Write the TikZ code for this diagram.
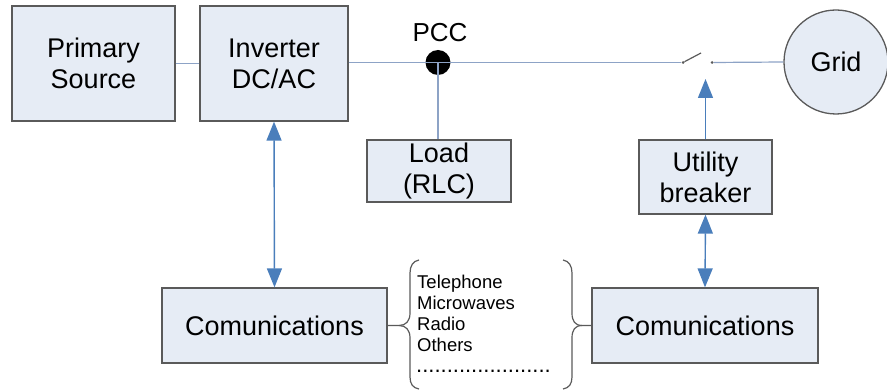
\documentclass[tikz,border=0pt]{standalone}
\usepackage{fontspec}
\setmainfont{Liberation Sans}
\usetikzlibrary{arrows.meta}
\definecolor{boxfill}{HTML}{E6ECF5}
\definecolor{boxline}{HTML}{5A5A5A}
\definecolor{wire}{HTML}{8DA3C6}
\definecolor{arr}{HTML}{4A7EBB}
\tikzset{
  blk/.style={draw=boxline, fill=boxfill, line width=1.3pt, inner sep=0pt, align=center,
    font=\fontsize{27}{31}\selectfont},
  wireline/.style={draw=wire, line width=1.2pt},
  commarrow/.style={draw=arr, fill=arr, line width=1.4pt,
    arrows={Triangle[length=19pt,width=15pt]-Triangle[length=19pt,width=15pt]}},
  uparrow/.style={draw=arr, fill=arr, line width=1.4pt,
    arrows={-Triangle[length=19pt,width=15pt]}},
  bracestyle/.style={draw=boxline, line width=1.2pt},
  contact/.style={circle, fill=boxline, inner sep=0pt, minimum size=3pt}
}
\begin{document}
\begin{tikzpicture}[x=1pt,y=-1pt]
\useasboundingbox (0,0) rectangle (887,390);
% blocks
\node[blk, minimum width=163pt, minimum height=115pt] (prim) at (93.5,63.5) {Primary\\Source};
\node[blk, minimum width=148pt, minimum height=115pt] (inv) at (274,63.5) {Inverter\\DC/AC};
\node[blk, minimum width=144pt, minimum height=62pt] (load) at (439,171) {Load\\(RLC)};
\node[blk, minimum width=133pt, minimum height=74pt] (brk) at (705.5,177) {Utility\\breaker};
\node[blk, minimum width=225pt, minimum height=75pt] (comL) at (274.5,325.5) {Comunications};
\node[blk, minimum width=226pt, minimum height=75pt] (comR) at (705,325.5) {Comunications};
\node[blk, circle, minimum size=104pt] (grid) at (836,62) {Grid};
% PCC
\node[circle, fill=black, inner sep=0pt, minimum size=25pt] (pcc) at (438,62.5) {};
\node[font=\fontsize{26}{30}\selectfont, inner sep=0pt] (pcclab) at (440,33) {PCC};
% switch contacts
\node[contact] (sw1) at (683,62.5) {};
\node[contact] (sw2) at (712,62.5) {};
\coordinate (blade) at (701,53);
\coordinate (brktop) at (705.5,79);
% wires
\draw[wireline] (prim.east |- 0,63.5) -- (inv.west |- 0,63.5);
\draw[wireline] (inv.east |- pcc) -- (pcc.center);
\draw[wireline] (pcc.center) -- (pcc.center |- load.north);
\draw[wireline] (pcc.center) -- (sw1);
\draw[draw=boxline, line width=1.2pt] (sw1) -- (blade);
\draw[wireline] (sw2) -- (grid.west);
% communication arrows
\draw[commarrow] (inv.south) -- (comL.north);
\draw[uparrow] (brk.north) -- (brktop);
\draw[commarrow] (brk.south) -- (comR.north);
% braces
\draw[bracestyle] (comL.east) -- (399,325.5)
  .. controls (406,325.5) and (410,321) .. (410,313) -- (410,273)
  .. controls (410,266) and (413,261) .. (419,260);
\draw[bracestyle] (399,325.5)
  .. controls (406,325.5) and (410,330) .. (410,338) -- (410,377)
  .. controls (410,384) and (413,388) .. (419,389);
\draw[bracestyle] (comR.west) -- (582,325.5)
  .. controls (575,325.5) and (572,321) .. (572,313) -- (572,273)
  .. controls (572,266) and (569,261) .. (563,260);
\draw[bracestyle] (582,325.5)
  .. controls (575,325.5) and (572,330) .. (572,338) -- (572,377)
  .. controls (572,384) and (569,388) .. (563,389);
% media list
\node[anchor=west, align=left, inner sep=0pt, font=\fontsize{18.5}{21}\selectfont] (media) at (417,313.5)
  {Telephone\\Microwaves\\Radio\\Others};
\node[anchor=base west, inner sep=0pt, text height=3pt, text depth=0pt,
  font=\fontsize{22}{24}\selectfont] (dots) at (416,372) {......................};
\end{tikzpicture}
\end{document}
